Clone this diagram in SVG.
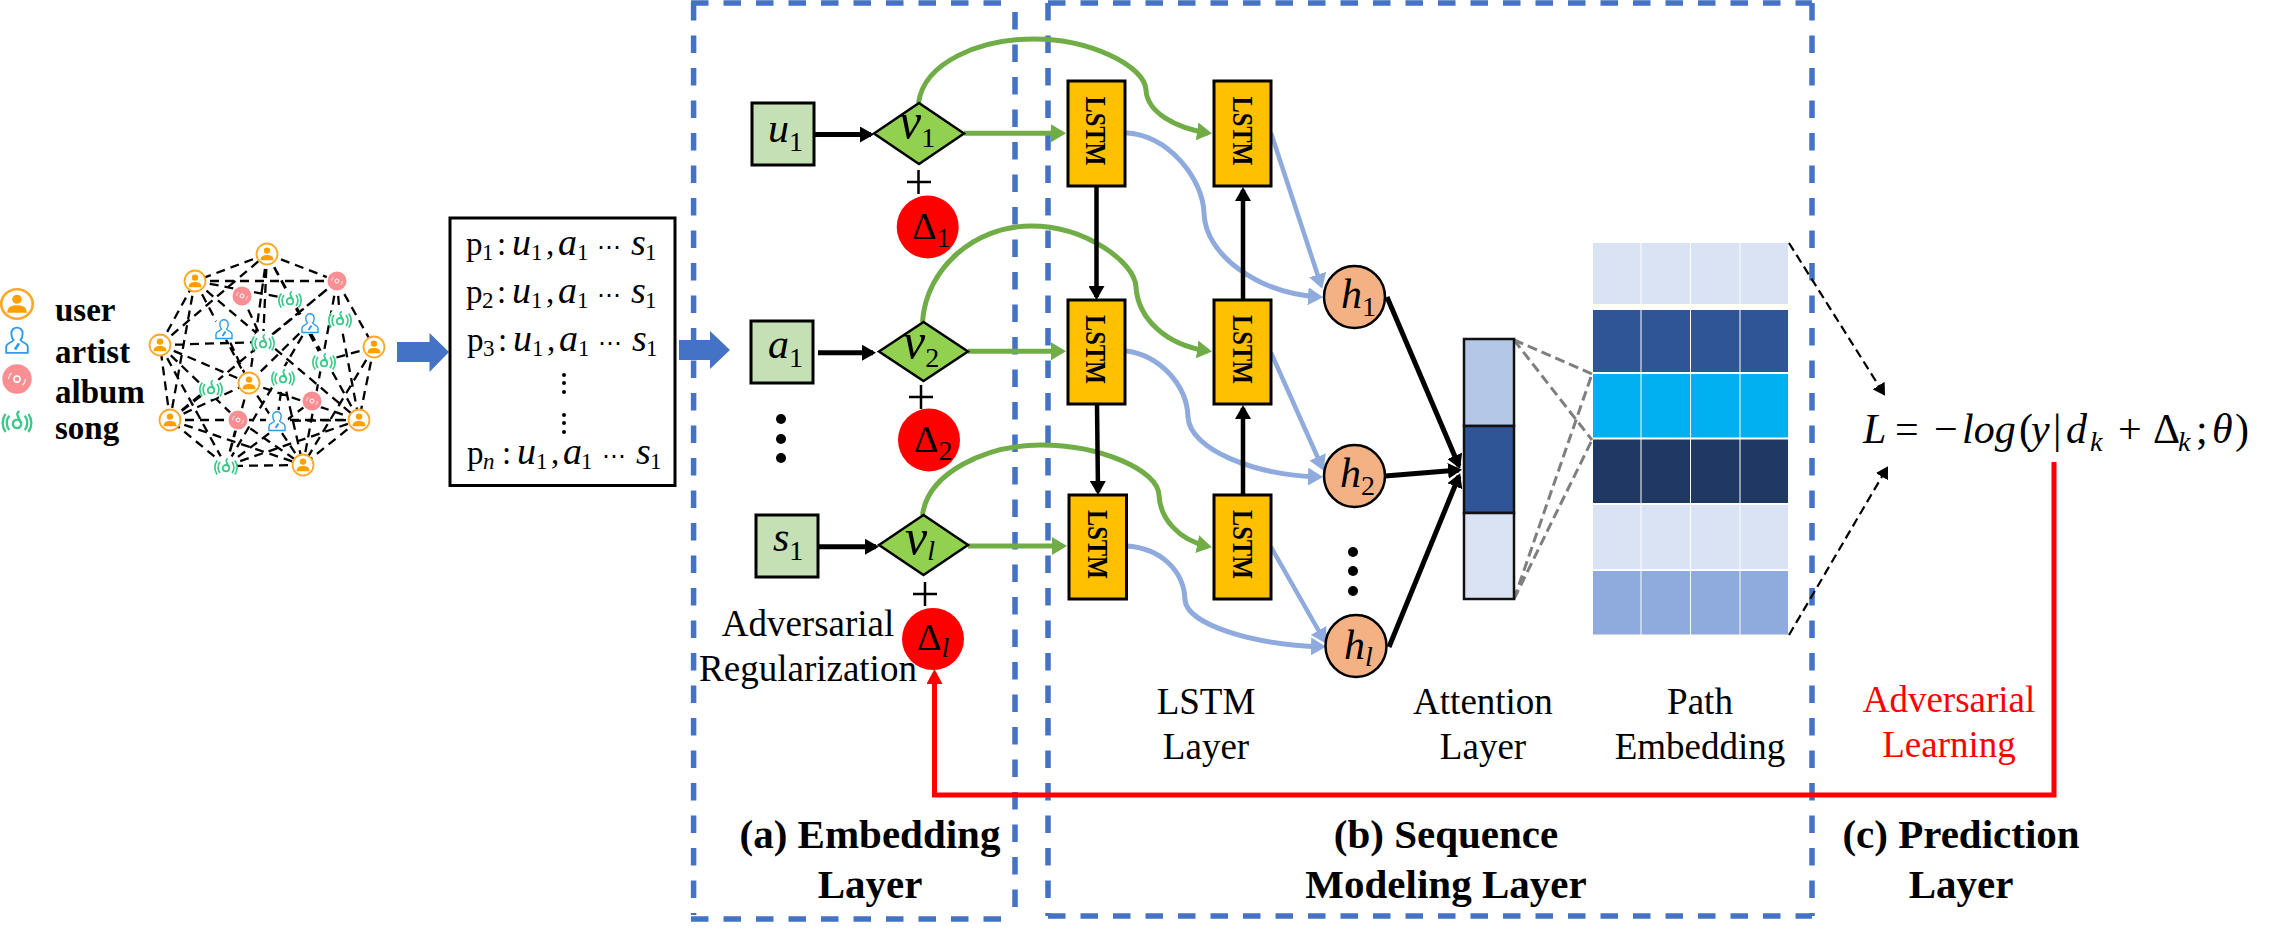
<svg xmlns="http://www.w3.org/2000/svg" xmlns:xlink="http://www.w3.org/1999/xlink" width="2271" height="935" viewBox="0 0 2271 935">
<style>
text{font-family:"Liberation Serif","Times New Roman",serif;fill:#000}
.lab{font-size:37px;text-anchor:middle}
.red{fill:#f00}
.cap{font-size:41px;font-weight:bold;text-anchor:middle}
.leg{font-size:33px;font-weight:bold}
.m{font-size:42px;font-style:italic}
.v{font-size:50px;font-style:italic}
.d{font-size:38px}
.up{font-style:normal}
.sub{font-size:28px;font-style:normal}
.subi{font-size:28px;font-style:italic}
.path{font-size:33px}
.path .i{font-size:38px;font-style:italic}
.path .n{font-size:23px}
.path .ni{font-size:23px;font-style:italic}
.path .c{font-size:24px}
.lstmt{font-size:29px;font-weight:bold;text-anchor:middle}
.frame{fill:none;stroke:#4472c4;stroke-width:5.5;stroke-dasharray:17.5 15}
.emb{fill:#c5e0b4;stroke:#000;stroke-width:3}
.dia{fill:#92d050;stroke:#000;stroke-width:2.5}
.del{fill:#f00}
.lstm{fill:#ffc000;stroke:#000;stroke-width:3}
.hid{fill:#f4b183;stroke:#000;stroke-width:2.5}
.blk{fill:none;stroke:#000;stroke-width:5}
.grn{fill:none;stroke:#70ad47;stroke-width:5}
.blu{fill:none;stroke:#8faadc;stroke-width:5}
.rd{fill:none;stroke:#f00;stroke-width:5}
.gd{fill:none;stroke:#7f7f7f;stroke-width:3;stroke-dasharray:10 5}
.kd{fill:none;stroke:#000;stroke-width:2.2;stroke-dasharray:9 5}
.ge{fill:none;stroke:#000;stroke-width:2.3;stroke-dasharray:9 6}
</style>
<defs>
<marker id="hk" markerUnits="userSpaceOnUse" markerWidth="15" markerHeight="16" refX="11" refY="8" orient="auto"><path d="M0 0L14 8L0 16z" fill="#000"/></marker>
<marker id="hg" markerUnits="userSpaceOnUse" markerWidth="15" markerHeight="18" refX="11" refY="9" orient="auto"><path d="M0 0L15 9L0 18z" fill="#70ad47"/></marker>
<marker id="hb" markerUnits="userSpaceOnUse" markerWidth="15" markerHeight="18" refX="11" refY="9" orient="auto"><path d="M0 0L15 9L0 18z" fill="#8faadc"/></marker>
<marker id="hr" markerUnits="userSpaceOnUse" markerWidth="15" markerHeight="16" refX="11" refY="8" orient="auto"><path d="M0 0L15 8L0 16z" fill="#f00"/></marker>
<marker id="hs" markerUnits="userSpaceOnUse" markerWidth="12" markerHeight="14" refX="10" refY="7" orient="auto"><path d="M0 0L12 7L0 14z" fill="#000"/></marker>
<g id="iu"><circle r="10.5" fill="#fff" stroke="#ffa726" stroke-width="1.8"/><circle cy="-3.4" r="3.2" fill="#ffa000"/><path d="M-6.5 6.2C-6.5 1.6-3 .9 0 .9S6.5 1.6 6.5 6.2z" fill="#ffa000"/></g>
<g id="ial"><circle r="11" fill="#fff"/><circle r="9.5" fill="#f98f93"/><circle r="2" fill="none" stroke="#fff" stroke-width="1"/><path d="M-5.500 0A5.500 5.500 0 0 1-3.500-4M5.500 0A5.500 5.500 0 0 1 3.500 4" fill="none" stroke="#fff" stroke-width=".7"/></g>
<g id="iar"><circle r="11" fill="#fff"/><g fill="#fff" stroke="#2e9be6" stroke-width="1.4"><path d="M-8 9.500V5C-8 2-3.400 2-2.600 0-4-1.500-4.200-3-4.200-5A4.200 4.200 0 0 1 4.200-5C4.200-3 4-1.500 2.600 0 3.400 2 8 2 8 5V9.500z"/><path d="M-1.500 7L1.500 2.500" stroke-width="2"/></g></g>
<g id="iso"><circle r="11" fill="#fff"/><g fill="none" stroke="#3cc98a" stroke-width="1.800"><circle cy="2.200" r="3.200"/><path d="M2.800 1C2-2-2-6 2-7.500"/><path d="M-6 -4A9 9 0 0 0-6 7M6-4A9 9 0 0 1 6 7M-8.800-5.500A12 12 0 0 0-8.800 8.500M8.800-5.500A12 12 0 0 1 8.800 8.500"/></g></g>
</defs>

<g id="frames">
<path class="frame" d="M691 3H1007M693.600 3V915M1015 12V915M691 919H1007"/>
<path class="frame" d="M1048 3H1812M1048 3V916M1812 3V916M1048 916H1812"/>
</g>

<g id="legend">
<use href="#iu" transform="translate(17 304) scale(1.5 1.4)"/>
<use href="#iar" transform="translate(17 340) scale(1.35)"/>
<use href="#ial" transform="translate(17 379) scale(1.55)"/>
<use href="#iso" transform="translate(17 421) scale(1.3)"/>
<text class="leg" x="55" y="321">user</text>
<text class="leg" x="55" y="363">artist</text>
<text class="leg" x="55" y="403">album</text>
<text class="leg" x="55" y="439">song</text>
</g>

<g id="graph-edges">
<path class="ge" d="M267 254L195 281M267 254L337 281M337 281L374 347M374 347L359 420M359 420L303 465M303 465L226 466M226 466L170 420M170 420L160 345M160 345L195 281M195 281L337 281M160 345L267 254M160 345L263 342M160 345L249 383M160 345L226 466M160 345L238 420M195 281L170 420M195 281L249 383M195 281L359 420M195 281L290 299M267 254L249 383M267 254L359 420M267 254L263 342M267 254L324 361M170 420L211 388M170 420L359 420M170 420L303 465M170 420L249 383M170 420L337 281M374 347L303 465M374 347L324 361M337 281L303 465M337 281L263 342M337 281L340 319M226 466L359 420M226 466L249 383M226 466L238 420M226 466L312 401M249 383L359 420M249 383L303 465M283 377L277 421M283 377L303 465M310 323L226 466M310 323L249 383M238 420L303 465M277 421L359 420M340 319L359 420M242 296L263 342M224 329L249 383"/>
</g>
<g id="graph-nodes">
<use href="#iu" x="267" y="254"/><use href="#iu" x="195" y="281"/><use href="#iu" x="374" y="347"/><use href="#iu" x="160" y="345"/><use href="#iu" x="170" y="420"/><use href="#iu" x="359" y="420"/><use href="#iu" x="303" y="465"/><use href="#iu" x="249" y="383"/>
<use href="#ial" x="337" y="281"/><use href="#ial" x="242" y="296"/><use href="#ial" x="312" y="401"/><use href="#ial" x="238" y="420"/>
<use href="#iar" x="224" y="329"/><use href="#iar" x="310" y="323"/><use href="#iar" x="277" y="421"/>
<use href="#iso" x="290" y="299"/><use href="#iso" x="340" y="319"/><use href="#iso" x="263" y="342"/><use href="#iso" x="324" y="361"/><use href="#iso" x="283" y="377"/><use href="#iso" x="211" y="388"/><use href="#iso" x="226" y="466"/>
</g>

<g id="flow-arrows" fill="#4472c4">
<path d="M397 342H429.500V333L449 352 429.500 372V362H397z"/>
<path d="M679 340H710V331L730 350 710 369V360H679z"/>
</g>

<g id="paths-box">
<rect x="450" y="218" width="225" height="267.500" fill="#fff" stroke="#000" stroke-width="3"/>
<text class="path" y="255"><tspan x="466">p</tspan><tspan class="n" x="482" dy="5">1</tspan><tspan x="497" dy="-5">:</tspan><tspan class="i" x="512">u</tspan><tspan class="n" x="531" dy="5">1</tspan><tspan x="546" dy="-5">,</tspan><tspan class="i" x="558">a</tspan><tspan class="n" x="577" dy="5">1</tspan><tspan class="c" x="597" dy="-5">⋯</tspan><tspan class="i" x="631">s</tspan><tspan class="n" x="645" dy="5">1</tspan></text>
<text class="path" y="303"><tspan x="466">p</tspan><tspan class="n" x="482" dy="5">2</tspan><tspan x="497" dy="-5">:</tspan><tspan class="i" x="512">u</tspan><tspan class="n" x="531" dy="5">1</tspan><tspan x="546" dy="-5">,</tspan><tspan class="i" x="558">a</tspan><tspan class="n" x="577" dy="5">1</tspan><tspan class="c" x="597" dy="-5">⋯</tspan><tspan class="i" x="631">s</tspan><tspan class="n" x="645" dy="5">1</tspan></text>
<text class="path" y="351"><tspan x="467">p</tspan><tspan class="n" x="483" dy="5">3</tspan><tspan x="498" dy="-5">:</tspan><tspan class="i" x="513">u</tspan><tspan class="n" x="532" dy="5">1</tspan><tspan x="547" dy="-5">,</tspan><tspan class="i" x="559">a</tspan><tspan class="n" x="578" dy="5">1</tspan><tspan class="c" x="598" dy="-5">⋯</tspan><tspan class="i" x="632">s</tspan><tspan class="n" x="646" dy="5">1</tspan></text>
<g fill="#000"><circle cx="564" cy="375" r="2"/><circle cx="564" cy="383" r="2"/><circle cx="564" cy="392" r="2"/><circle cx="564" cy="415" r="2"/><circle cx="564" cy="423" r="2"/><circle cx="564" cy="432" r="2"/></g>
<text class="path" y="464"><tspan x="467">p</tspan><tspan class="ni" x="483" dy="5">n</tspan><tspan x="502" dy="-5">:</tspan><tspan class="i" x="517">u</tspan><tspan class="n" x="536" dy="5">1</tspan><tspan x="551" dy="-5">,</tspan><tspan class="i" x="563">a</tspan><tspan class="n" x="581" dy="5">1</tspan><tspan class="c" x="602" dy="-5">⋯</tspan><tspan class="i" x="636">s</tspan><tspan class="n" x="650" dy="5">1</tspan></text>
</g>

<g id="connectors">
<path class="blk" marker-end="url(#hk)" d="M814 134.500H871"/>
<path class="blk" marker-end="url(#hk)" d="M818 352.700H873"/>
<path class="blk" marker-end="url(#hk)" d="M818 546.700H876"/>
<path class="grn" marker-end="url(#hg)" d="M964 133.300H1062"/>
<path class="grn" marker-end="url(#hg)" d="M968 351.300H1062"/>
<path class="grn" marker-end="url(#hg)" d="M968 546H1063"/>
<path class="grn" marker-end="url(#hg)" d="M918.500 103C924 62 980 39 1034 39C1090 39 1145 66 1146 90C1147 112 1175 128 1208 133"/>
<path class="grn" marker-end="url(#hg)" d="M922.500 322C926 268 975 226 1031 226C1085 226 1135 262 1136 287C1138 318 1165 345 1208 351"/>
<path class="grn" marker-end="url(#hg)" d="M922.500 515C928 473 985 445 1041 445C1100 445 1158 470 1159 495C1160 518 1178 540 1208 546.500"/>
<path class="blu" marker-end="url(#hb)" d="M1125 132.700C1170 135 1203 180 1204 213C1205 255 1258 293 1319 297"/>
<path class="blu" marker-end="url(#hb)" d="M1125 350.700C1160 355 1187 385 1188 417C1190 450 1255 475 1319 477"/>
<path class="blu" marker-end="url(#hb)" d="M1126.500 546C1160 548 1184 570 1185 600C1187 625 1255 645 1322 646.700"/>
<path class="blu" style="stroke-width:4.500" marker-end="url(#hb)" d="M1271 133L1321 285"/>
<path class="blu" style="stroke-width:4.500" marker-end="url(#hb)" d="M1271 352.700L1322 467"/>
<path class="blu" style="stroke-width:4.500" marker-end="url(#hb)" d="M1271 547L1324 640"/>
<path class="blk" style="stroke-width:4.500" marker-end="url(#hk)" d="M1096.500 186V297"/>
<path class="blk" style="stroke-width:4.500" marker-end="url(#hk)" d="M1097 404L1098 492"/>
<path class="blk" style="stroke-width:4.500" marker-end="url(#hk)" d="M1243 300V190"/>
<path class="blk" style="stroke-width:4.500" marker-end="url(#hk)" d="M1243 495V408"/>
<path class="blk" marker-end="url(#hk)" d="M1387 297L1459 466"/>
<path class="blk" marker-end="url(#hk)" d="M1385 476L1459 470"/>
<path class="blk" marker-end="url(#hk)" d="M1389 647L1459 476"/>
<path class="gd" d="M1514 340L1592 374M1514 340L1592 440M1514 599L1592 374M1514 599L1592 440"/>
<path class="kd" marker-end="url(#hs)" d="M1789 243L1884 394"/>
<path class="kd" marker-end="url(#hs)" d="M1789 635L1887 468"/>
<path class="rd" marker-end="url(#hr)" d="M2054 462V795H934.500V673"/>
</g>

<g id="n-u1"><rect class="emb" x="752" y="103" width="62" height="62"/><text class="m" x="768" y="141.500">u<tspan class="sub" dy="9">1</tspan></text></g>
<g id="n-a1"><rect class="emb" x="751" y="321" width="62" height="62"/><text class="m" x="768" y="358">a<tspan class="sub" dy="9">1</tspan></text></g>
<g id="n-s1"><rect class="emb" x="756" y="515" width="62" height="62"/><text class="m" x="773" y="550.500">s<tspan class="sub" dy="9">1</tspan></text></g>
<g id="n-v1"><path class="dia" d="M874 133.500L919 103 964 133.500 919 164z"/><text class="v" x="899" y="138">v<tspan class="sub" dy="9">1</tspan></text></g>
<g id="n-v2"><path class="dia" d="M879 351.500L923.500 322 968 351.500 923.500 381z"/><text class="v" x="903" y="358">v<tspan class="sub" dy="9">2</tspan></text></g>
<g id="n-vl"><path class="dia" d="M879 545L923.500 515 968 545 923.500 575z"/><text class="v" x="905" y="554">v<tspan class="subi" dy="6">l</tspan></text></g>
<g id="plus" stroke="#000" stroke-width="2.500"><path d="M907 182H931M918.500 170V194M909 397H933M921 385V409M913 594H937M925 582V606"/></g>
<g id="n-d1"><ellipse class="del" cx="927.700" cy="227" rx="31" ry="31.500"/><text class="d" x="912" y="239">Δ<tspan class="sub" dy="8">1</tspan></text></g>
<g id="n-d2"><ellipse class="del" cx="929" cy="440" rx="31" ry="31.500"/><text class="d" x="914" y="452">Δ<tspan class="sub" dy="8">2</tspan></text></g>
<g id="n-dl"><ellipse class="del" cx="933" cy="639" rx="31" ry="31"/><text class="d" x="917" y="650">Δ<tspan class="subi" dy="7">l</tspan></text></g>

<g id="n-lstm11"><rect class="lstm" x="1068" y="81" width="57" height="105"/><text class="lstmt" textLength="69" lengthAdjust="spacingAndGlyphs" transform="translate(1086 131) rotate(90)">LSTM</text></g>
<g id="n-lstm21"><rect class="lstm" x="1068" y="300" width="57" height="104"/><text class="lstmt" textLength="69" lengthAdjust="spacingAndGlyphs" transform="translate(1086 349.500) rotate(90)">LSTM</text></g>
<g id="n-lstm31"><rect class="lstm" x="1069" y="495" width="57.500" height="104"/><text class="lstmt" textLength="69" lengthAdjust="spacingAndGlyphs" transform="translate(1088 544.500) rotate(90)">LSTM</text></g>
<g id="n-lstm12"><rect class="lstm" x="1214" y="81" width="57" height="105"/><text class="lstmt" textLength="69" lengthAdjust="spacingAndGlyphs" transform="translate(1232.500 131) rotate(90)">LSTM</text></g>
<g id="n-lstm22"><rect class="lstm" x="1214" y="300" width="57" height="104"/><text class="lstmt" textLength="69" lengthAdjust="spacingAndGlyphs" transform="translate(1232.500 349.500) rotate(90)">LSTM</text></g>
<g id="n-lstm32"><rect class="lstm" x="1214" y="495" width="57" height="104"/><text class="lstmt" textLength="69" lengthAdjust="spacingAndGlyphs" transform="translate(1232.500 544.500) rotate(90)">LSTM</text></g>

<g id="n-h1"><ellipse class="hid" cx="1354.500" cy="297" rx="30.500" ry="31"/><text class="m" x="1341" y="308">h<tspan class="sub" dy="8">1</tspan></text></g>
<g id="n-h2"><ellipse class="hid" cx="1354.500" cy="476" rx="30.500" ry="31"/><text class="m" x="1340" y="487">h<tspan class="sub" dy="8">2</tspan></text></g>
<g id="n-hl"><ellipse class="hid" cx="1356" cy="646" rx="30.500" ry="31"/><text class="m" x="1344" y="659">h<tspan class="subi" dy="7">l</tspan></text></g>

<g id="dots" fill="#000"><circle cx="781" cy="419" r="5"/><circle cx="781" cy="439" r="5"/><circle cx="781" cy="458" r="5"/><circle cx="1353" cy="552" r="5"/><circle cx="1353" cy="571" r="5"/><circle cx="1353" cy="591" r="5"/></g>

<g id="attention" stroke="#111" stroke-width="2.500"><rect x="1464" y="339" width="50" height="87" fill="#b4c7e7"/><rect x="1464" y="426" width="50" height="87" fill="#2f5597"/><rect x="1464" y="513" width="50" height="86" fill="#dae3f3"/></g>

<g id="path-embedding">
<g fill="#dae3f3"><rect x="1593" y="243" width="47.500" height="61"/><rect x="1641.500" y="243" width="48.500" height="61"/><rect x="1691" y="243" width="48.500" height="61"/><rect x="1740.500" y="243" width="47.500" height="61"/></g>
<g fill="#2f5597"><rect x="1593" y="310" width="47.500" height="62"/><rect x="1641.500" y="310" width="48.500" height="62"/><rect x="1691" y="310" width="48.500" height="62"/><rect x="1740.500" y="310" width="47.500" height="62"/></g>
<g fill="#00b0f0"><rect x="1593" y="374" width="47.500" height="63.500"/><rect x="1641.500" y="374" width="48.500" height="63.500"/><rect x="1691" y="374" width="48.500" height="63.500"/><rect x="1740.500" y="374" width="47.500" height="63.500"/></g>
<g fill="#1f3864"><rect x="1593" y="439.500" width="47.500" height="63.500"/><rect x="1641.500" y="439.500" width="48.500" height="63.500"/><rect x="1691" y="439.500" width="48.500" height="63.500"/><rect x="1740.500" y="439.500" width="47.500" height="63.500"/></g>
<g fill="#dae3f3"><rect x="1593" y="505" width="47.500" height="64"/><rect x="1641.500" y="505" width="48.500" height="64"/><rect x="1691" y="505" width="48.500" height="64"/><rect x="1740.500" y="505" width="47.500" height="64"/></g>
<g fill="#8faadc"><rect x="1593" y="571" width="47.500" height="63.500"/><rect x="1641.500" y="571" width="48.500" height="63.500"/><rect x="1691" y="571" width="48.500" height="63.500"/><rect x="1740.500" y="571" width="47.500" height="63.500"/></g>
</g>

<g id="loss">
<text class="m" y="442.500"><tspan x="1863">L</tspan><tspan class="up" x="1895">=</tspan><tspan class="up" x="1934">−</tspan><tspan x="1962">log</tspan><tspan class="up" x="2019">(</tspan><tspan x="2031">y</tspan><tspan class="up" x="2053">|</tspan><tspan x="2066">d</tspan><tspan class="subi" x="2090" dy="8">k</tspan><tspan class="up" x="2118" dy="-8">+</tspan><tspan class="up" x="2153">Δ</tspan><tspan class="subi" x="2178" dy="8">k</tspan><tspan class="up" x="2196" dy="-8">;</tspan><tspan x="2212">θ</tspan><tspan class="up" x="2235">)</tspan></text>
</g>

<g id="labels">
<text class="lab" x="808" y="636">Adversarial</text>
<text class="lab" x="808" y="681">Regularization</text>
<text class="lab" x="1206" y="714">LSTM</text>
<text class="lab" x="1206" y="759">Layer</text>
<text class="lab" x="1483" y="714">Attention</text>
<text class="lab" x="1483" y="759">Layer</text>
<text class="lab" x="1700" y="714">Path</text>
<text class="lab" x="1700" y="759">Embedding</text>
<text class="lab red" x="1949" y="712">Adversarial</text>
<text class="lab red" x="1949" y="757">Learning</text>
<text class="cap" x="870" y="848">(a) Embedding</text>
<text class="cap" x="870" y="898">Layer</text>
<text class="cap" x="1446" y="848">(b) Sequence</text>
<text class="cap" x="1446" y="898">Modeling Layer</text>
<text class="cap" x="1961" y="848">(c) Prediction</text>
<text class="cap" x="1961" y="898">Layer</text>
</g>
</svg>
